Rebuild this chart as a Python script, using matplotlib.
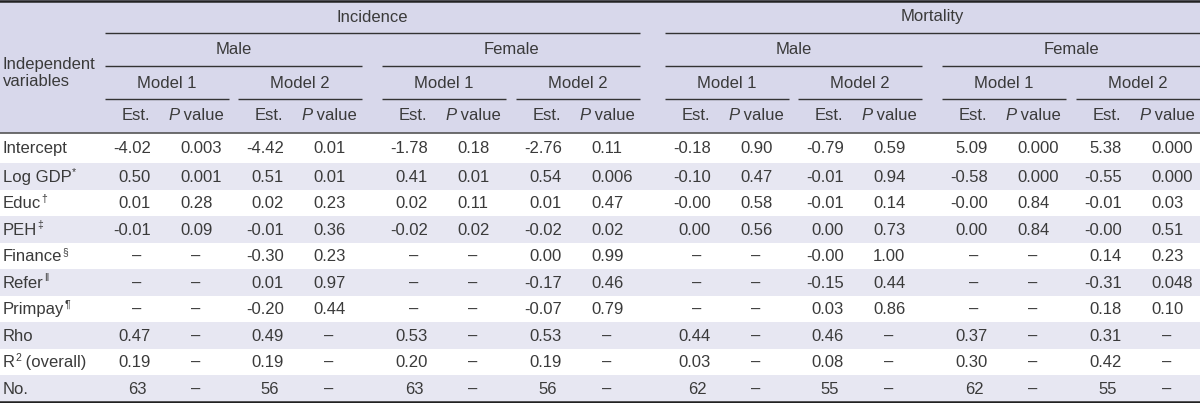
import matplotlib
matplotlib.use("Agg")
import matplotlib.pyplot as plt
from matplotlib.patches import Rectangle

plt.rcParams['font.family'] = ['Liberation Sans', 'DejaVu Sans']

# row labels (name, superscript, suffix)
row_names = ['Intercept', 'Log GDP', 'Educ', 'PEH', 'Finance', 'Refer', 'Primpay', 'Rho', 'R', 'No.']
row_sups = ['', '*', '†', '‡', '§', '‖', '¶', '', '2', '']
row_suffix = ['', '', '', '', '', '', '', '', ' (overall)', '']

outcomes = ['Incidence', 'Mortality']
sexes = ['Male', 'Female', 'Male', 'Female']
models = ['Model 1', 'Model 2'] * 4

inc_male_m1_est = ['-4.02', '0.50', '0.01', '-0.01', '–', '–', '–', '0.47', '0.19', '63']
inc_male_m1_p = ['0.003', '0.001', '0.28', '0.09', '–', '–', '–', '–', '–', '–']
inc_male_m2_est = ['-4.42', '0.51', '0.02', '-0.01', '-0.30', '0.01', '-0.20', '0.49', '0.19', '56']
inc_male_m2_p = ['0.01', '0.01', '0.23', '0.36', '0.23', '0.97', '0.44', '–', '–', '–']
inc_fem_m1_est = ['-1.78', '0.41', '0.02', '-0.02', '–', '–', '–', '0.53', '0.20', '63']
inc_fem_m1_p = ['0.18', '0.01', '0.11', '0.02', '–', '–', '–', '–', '–', '–']
inc_fem_m2_est = ['-2.76', '0.54', '0.01', '-0.02', '0.00', '-0.17', '-0.07', '0.53', '0.19', '56']
inc_fem_m2_p = ['0.11', '0.006', '0.47', '0.02', '0.99', '0.46', '0.79', '–', '–', '–']
mort_male_m1_est = ['-0.18', '-0.10', '-0.00', '0.00', '–', '–', '–', '0.44', '0.03', '62']
mort_male_m1_p = ['0.90', '0.47', '0.58', '0.56', '–', '–', '–', '–', '–', '–']
mort_male_m2_est = ['-0.79', '-0.01', '-0.01', '0.00', '-0.00', '-0.15', '0.03', '0.46', '0.08', '55']
mort_male_m2_p = ['0.59', '0.94', '0.14', '0.73', '1.00', '0.44', '0.86', '–', '–', '–']
mort_fem_m1_est = ['5.09', '-0.58', '-0.00', '0.00', '–', '–', '–', '0.37', '0.30', '62']
mort_fem_m1_p = ['0.000', '0.000', '0.84', '0.84', '–', '–', '–', '–', '–', '–']
mort_fem_m2_est = ['5.38', '-0.55', '-0.01', '-0.00', '0.14', '-0.31', '0.18', '0.31', '0.42', '55']
mort_fem_m2_p = ['0.000', '0.000', '0.03', '0.51', '0.23', '0.048', '0.10', '–', '–', '–']

est_cols = [inc_male_m1_est, inc_male_m2_est, inc_fem_m1_est, inc_fem_m2_est,
            mort_male_m1_est, mort_male_m2_est, mort_fem_m1_est, mort_fem_m2_est]
p_cols = [inc_male_m1_p, inc_male_m2_p, inc_fem_m1_p, inc_fem_m2_p,
          mort_male_m1_p, mort_male_m2_p, mort_fem_m1_p, mort_fem_m2_p]

# layout (pixels)
W, H = 1200, 403
group_left = [105, 238, 382, 516, 665, 798, 942, 1076]
gw = 124
header_bot = 132.5
first_row_h = 30.5
row_h = (H - 1.5 - header_bot - first_row_h) / 9

txt = '#3a3a3a'
head_bg = '#d8d8eb'
row_bg = '#e7e7f2'
fs = 12

fig = plt.figure(figsize=(12, 4.03), dpi=100)
ax = fig.add_axes([0, 0, 1, 1])
ax.set_xlim(0, W)
ax.set_ylim(H, 0)
ax.axis('off')
renderer = fig.canvas.get_renderer()

ax.add_patch(Rectangle((0, 0), W, header_bot, color=head_bg, lw=0))

row_top = [header_bot]
for i in range(len(row_names)):
    h = first_row_h if i == 0 else row_h
    row_top.append(row_top[-1] + h)
row_cy = [(row_top[i] + row_top[i + 1]) / 2 + 1 for i in range(len(row_names))]
for i in range(len(row_names)):
    if i % 2 == 1:
        ax.add_patch(Rectangle((0, row_top[i]), W, row_top[i + 1] - row_top[i], color=row_bg, lw=0))

# rules
ax.plot([0, W], [1, 1], color='#222222', lw=1.8)
ax.plot([0, W], [header_bot, header_bot], color='#555555', lw=1.2)
ax.plot([0, W], [H - 1, H - 1], color='#222222', lw=1.8)


def hline(x0, x1, y):
    ax.plot([x0, x1], [y, y], color='#333333', lw=1.0, solid_capstyle='butt')


def width_of(t):
    return t.get_window_extent(renderer).width


# outcome level
for k, name in enumerate(outcomes):
    x0 = group_left[4 * k]
    x1 = group_left[4 * k + 3] + gw
    ax.text((x0 + x1) / 2, 17, name, ha='center', va='center', fontsize=fs, color=txt)
    hline(x0, x1, 33)
# sex level
for k, name in enumerate(sexes):
    x0 = group_left[2 * k]
    x1 = group_left[2 * k + 1] + gw
    ax.text((x0 + x1) / 2, 50, name, ha='center', va='center', fontsize=fs, color=txt)
    hline(x0, x1, 66)
# model level
for k, name in enumerate(models):
    x0 = group_left[k]
    ax.text(x0 + gw / 2, 83, name, ha='center', va='center', fontsize=fs, color=txt)
    hline(x0, x0 + gw, 99)
    ax.text(x0 + 31, 116, 'Est.', ha='center', va='center', fontsize=fs, color=txt)
    # "P value" with italic P, centered
    tp = ax.text(0, 116, 'P', ha='left', va='center', fontsize=fs, color=txt, style='italic')
    tv = ax.text(0, 116, ' value', ha='left', va='center', fontsize=fs, color=txt)
    wp, wv = width_of(tp), width_of(tv)
    start = x0 + 91 - (wp + wv) / 2
    tp.set_x(start)
    tv.set_x(start + wp)

ax.text(3, 64, 'Independent', ha='left', va='center', fontsize=fs, color=txt)
ax.text(3, 81, 'variables', ha='left', va='center', fontsize=fs, color=txt)

# row labels
for i, name in enumerate(row_names):
    y = row_cy[i]
    t = ax.text(3, y, name, ha='left', va='center', fontsize=fs, color=txt)
    x = 3 + width_of(t)
    if row_sups[i]:
        ts = ax.text(x + 0.5, y - 5, row_sups[i], ha='left', va='center', fontsize=7.5, color=txt)
        x = x + 0.5 + width_of(ts)
    if row_suffix[i]:
        ax.text(x, y, row_suffix[i], ha='left', va='center', fontsize=fs, color=txt)

# cells
for k in range(8):
    x0 = group_left[k]
    for i in range(len(row_names)):
        y = row_cy[i]
        e = est_cols[k][i]
        p = p_cols[k][i]
        if e == '–' or '.' not in e:
            ax.text(x0 + 32, y, e, ha='center', va='center', fontsize=fs, color=txt)
        else:
            ax.text(x0 + 46, y, e, ha='right', va='center', fontsize=fs, color=txt)
        if p == '–':
            ax.text(x0 + 91, y, p, ha='center', va='center', fontsize=fs, color=txt)
        else:
            ax.text(x0 + 75, y, p, ha='left', va='center', fontsize=fs, color=txt)

fig.savefig('out.png', dpi=100)
